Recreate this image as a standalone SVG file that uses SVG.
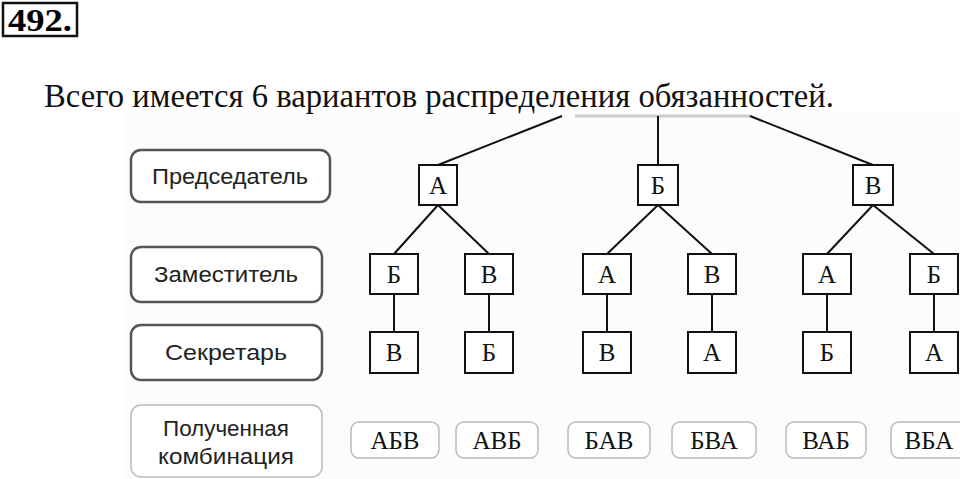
<svg xmlns="http://www.w3.org/2000/svg" width="960" height="479" viewBox="0 0 960 479">
<style>
.b{fill:#fff;stroke:#111;stroke-width:2}
.l{fill:#fff;stroke:#555;stroke-width:2.5}
.p{fill:#fff;stroke:#bbb;stroke-width:1.5}
.s{font-family:"Liberation Serif",serif;font-size:25px;fill:#111;text-anchor:middle}
.a{font-family:"Liberation Sans",sans-serif;font-size:22px;fill:#222;text-anchor:middle}
line{stroke:#111;stroke-width:2}
</style>
<rect width="960" height="479" fill="#fff"/>
<rect x="122" y="113" width="838" height="366" fill="#fcfcfc"/>
<line x1="575" y1="116" x2="750" y2="116" style="stroke:#ccc;stroke-width:3"/>
<g id="num"><rect x="3" y="3" width="74" height="33" fill="#fff" stroke="#111" stroke-width="2.5"/>
<text x="40" y="31" font-family="Liberation Serif,serif" font-size="31" font-weight="bold" text-anchor="middle" textLength="64" lengthAdjust="spacingAndGlyphs">492.</text></g>
<text x="44" y="107" font-family="Liberation Serif,serif" font-size="33" fill="#111" textLength="790" lengthAdjust="spacingAndGlyphs">Всего имеется 6 вариантов распределения обязанностей.</text>
<g id="connectors">
<line x1="562" y1="116" x2="438" y2="165"/><line x1="658" y1="116" x2="658" y2="165"/><line x1="750" y1="116" x2="873" y2="165"/>
<line x1="438" y1="205" x2="394" y2="254"/><line x1="438" y1="205" x2="489" y2="254"/>
<line x1="658" y1="205" x2="607" y2="254"/><line x1="658" y1="205" x2="712" y2="254"/>
<line x1="873" y1="205" x2="827" y2="254"/><line x1="873" y1="205" x2="934" y2="254"/>
<line x1="394" y1="294" x2="394" y2="332"/><line x1="489" y1="294" x2="489" y2="332"/><line x1="607" y1="294" x2="607" y2="332"/><line x1="712" y1="294" x2="712" y2="332"/><line x1="827" y1="294" x2="827" y2="332"/><line x1="934" y1="294" x2="934" y2="332"/>
</g>
<g id="lab1"><rect class="l" x="131" y="150" width="199" height="52" rx="10"/><text class="a" x="230" y="184" textLength="156" lengthAdjust="spacingAndGlyphs">Председатель</text></g>
<g id="lab2"><rect class="l" x="131" y="247" width="191" height="55" rx="10"/><text class="a" x="226" y="282" textLength="144" lengthAdjust="spacingAndGlyphs">Заместитель</text></g>
<g id="lab3"><rect class="l" x="131" y="325" width="191" height="55" rx="10"/><text class="a" x="226" y="360" textLength="122" lengthAdjust="spacingAndGlyphs">Секретарь</text></g>
<g id="lab4"><rect class="p" x="131" y="405" width="191" height="72" rx="10"/><text class="a" x="226" y="436" textLength="126" lengthAdjust="spacingAndGlyphs">Полученная</text><text class="a" x="226" y="464" textLength="136" lengthAdjust="spacingAndGlyphs">комбинация</text></g>
<g id="n1"><rect class="b" x="419" y="165" width="38" height="40"/><text class="s" x="438" y="194">А</text></g>
<g id="n2"><rect class="b" x="638" y="165" width="40" height="40"/><text class="s" x="658" y="194">Б</text></g>
<g id="n3"><rect class="b" x="853" y="165" width="40" height="40"/><text class="s" x="873" y="194">В</text></g>
<g id="z1"><rect class="b" x="370" y="254" width="48" height="40"/><text class="s" x="394" y="283">Б</text></g>
<g id="z2"><rect class="b" x="465" y="254" width="48" height="40"/><text class="s" x="489" y="283">В</text></g>
<g id="z3"><rect class="b" x="583" y="254" width="48" height="40"/><text class="s" x="607" y="283">А</text></g>
<g id="z4"><rect class="b" x="688" y="254" width="48" height="40"/><text class="s" x="712" y="283">В</text></g>
<g id="z5"><rect class="b" x="803" y="254" width="48" height="40"/><text class="s" x="827" y="283">А</text></g>
<g id="z6"><rect class="b" x="910" y="254" width="48" height="40"/><text class="s" x="934" y="283">Б</text></g>
<g id="s1"><rect class="b" x="370" y="332" width="48" height="41"/><text class="s" x="394" y="361">В</text></g>
<g id="s2"><rect class="b" x="465" y="332" width="48" height="41"/><text class="s" x="489" y="361">Б</text></g>
<g id="s3"><rect class="b" x="583" y="332" width="48" height="41"/><text class="s" x="607" y="361">В</text></g>
<g id="s4"><rect class="b" x="688" y="332" width="48" height="41"/><text class="s" x="712" y="361">А</text></g>
<g id="s5"><rect class="b" x="803" y="332" width="48" height="41"/><text class="s" x="827" y="361">Б</text></g>
<g id="s6"><rect class="b" x="910" y="332" width="48" height="41"/><text class="s" x="934" y="361">А</text></g>
<g id="c1"><rect class="p" x="351" y="422" width="88" height="36" rx="8"/><text class="s" x="395" y="449">АБВ</text></g>
<g id="c2"><rect class="p" x="456" y="422" width="82" height="36" rx="8"/><text class="s" x="497" y="449">АВБ</text></g>
<g id="c3"><rect class="p" x="568" y="422" width="82" height="36" rx="8"/><text class="s" x="609" y="449">БАВ</text></g>
<g id="c4"><rect class="p" x="672" y="422" width="84" height="36" rx="8"/><text class="s" x="714" y="449">БВА</text></g>
<g id="c5"><rect class="p" x="786" y="422" width="80" height="36" rx="8"/><text class="s" x="826" y="449">ВАБ</text></g>
<g id="c6"><rect class="p" x="891" y="422" width="80" height="36" rx="8"/><text class="s" x="929" y="449">ВБА</text></g>
</svg>
